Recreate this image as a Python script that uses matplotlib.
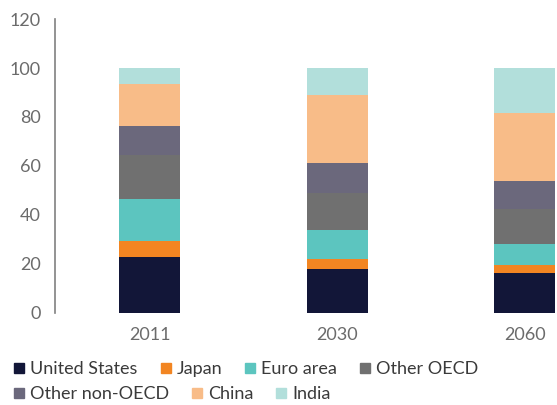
import matplotlib.pyplot as plt
from matplotlib.lines import Line2D

plt.rcParams['font.family'] = ['Lato', 'DejaVu Sans']

years = ["2011", "2030", "2060"]
regions = ["United States", "Japan", "Euro area", "Other OECD",
           "Other non-OECD", "China", "India"]
colors = ["#121638", "#F28522", "#5CC5BF", "#707070",
          "#6B687C", "#F8BC88", "#B2DFDB"]

# share of world GDP (%) per region
us = [22.8, 17.9, 16.2]
japan = [6.5, 4.1, 3.3]
euro = [17.2, 11.8, 8.6]
other_oecd = [17.9, 15.1, 14.3]
other_non_oecd = [11.9, 12.3, 11.4]
china = [17.2, 27.8, 27.8]
india = [6.5, 11.0, 18.4]

series = [us, japan, euro, other_oecd, other_non_oecd, china, india]

fig = plt.figure(figsize=(5.57, 4.05), dpi=100)
ax = fig.add_axes([55 / 557, 1 - 312.7 / 405, 1 - 55 / 557, (312.7 - 19.1) / 405])

x = range(len(years))
bottom = [0, 0, 0]
for vals, col, name in zip(series, colors, regions):
    ax.bar(x, vals, bottom=bottom, width=0.325, color=col, label=name)
    bottom = [b + v for b, v in zip(bottom, vals)]

ax.set_xlim(-0.504, 2.173)
ax.set_ylim(0, 120)
ax.set_yticks(range(0, 121, 20))
ax.set_xticks(list(x))
ax.set_xticklabels(years)
ax.tick_params(length=0, labelsize=13, colors="#6b6b6b", pad=10)
for s in ["top", "right", "bottom"]:
    ax.spines[s].set_visible(False)
ax.spines["left"].set_color("#808080")
ax.spines["left"].set_linewidth(1.2)

handles = [Line2D([], [], marker="s", linestyle="none", markersize=7,
                  color=c, label=r) for c, r in zip(colors, regions)]
opts = dict(frameon=False, fontsize=13, handletextpad=0.25, columnspacing=1.2,
            borderpad=0, handlelength=0.7, labelcolor="#3a3a3a", loc="upper left")
fig.legend(handles=handles[:4], ncol=4, bbox_to_anchor=(4 / 557, 1 - 352 / 405), **opts)
fig.legend(handles=handles[4:], ncol=3, bbox_to_anchor=(4 / 557, 1 - 377 / 405), **opts)

fig.savefig("out.png", dpi=100)
